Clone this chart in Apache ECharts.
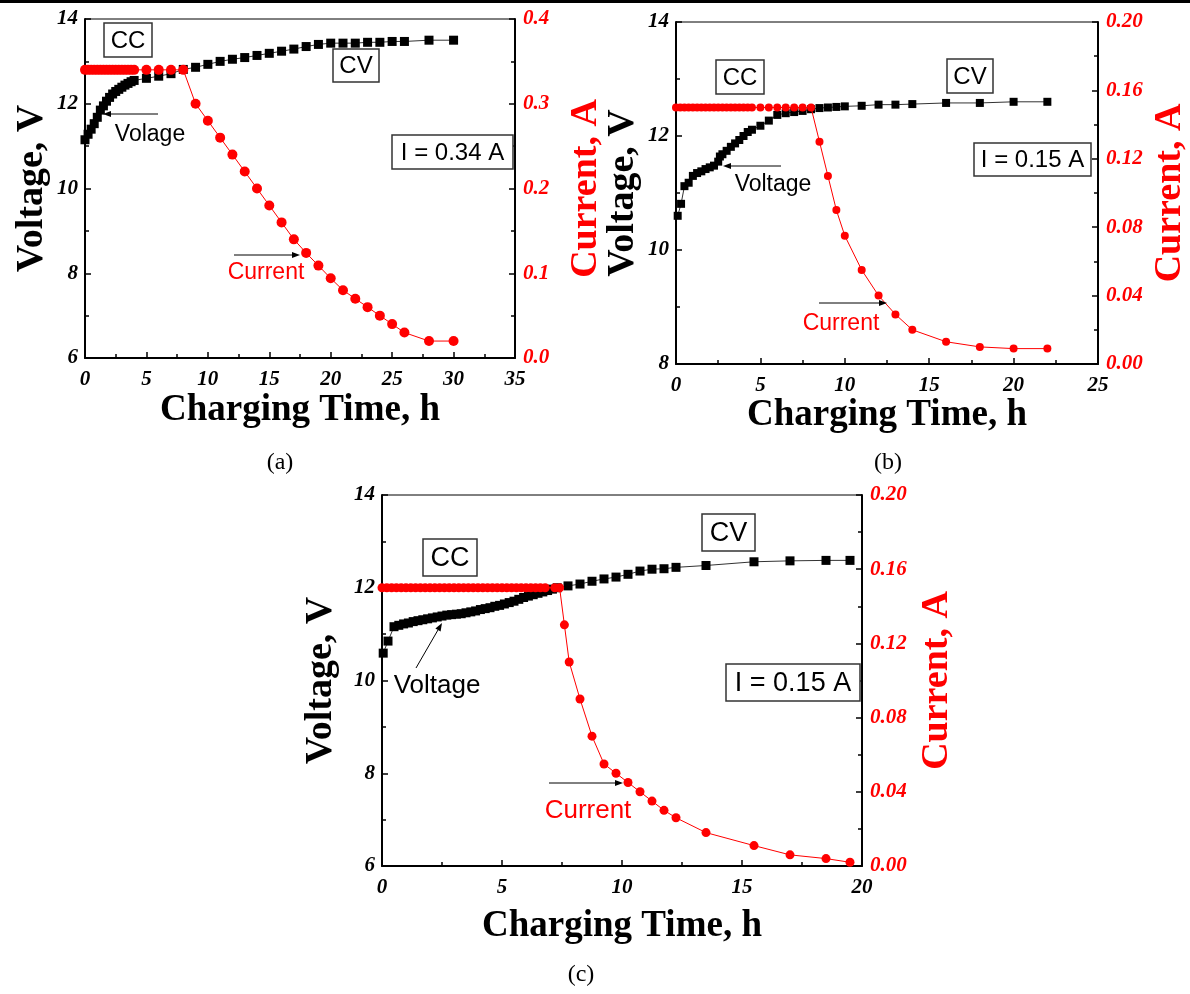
<!DOCTYPE html>
<html>
<head>
<meta charset="utf-8">
<script src="https://cdn.jsdelivr.net/npm/echarts@6/dist/echarts.min.js"></script>
<style>
  html, body { margin: 0; padding: 0; background: #fff; }
  #chart { width: 1190px; height: 994px; }
</style>
</head>
<body>
<div id="chart"></div>
<script>
// ---- panel (a), I = 0.34 A ----
var timeVoltA = [0, 0.25, 0.5, 0.75, 1, 1.25, 1.5, 1.75, 2, 2.25, 2.5, 2.75, 3, 3.25, 3.5, 3.75, 4,
  5, 6, 7, 8, 9, 10, 11, 12, 13, 14, 15, 16, 17, 18, 19, 20, 21, 22, 23, 24, 25, 26, 28, 30];
var voltA = [11.15, 11.28, 11.4, 11.53, 11.68, 11.85, 11.95, 12.06, 12.15, 12.23, 12.29, 12.34, 12.39, 12.44, 12.48, 12.52, 12.55,
  12.6, 12.65, 12.71, 12.81, 12.86, 12.93, 13.0, 13.05, 13.09, 13.14, 13.19, 13.24, 13.29, 13.35, 13.4, 13.43, 13.43, 13.43, 13.45, 13.45, 13.47, 13.47, 13.5, 13.5];
var timeCurA = [0, 0.25, 0.5, 0.75, 1, 1.25, 1.5, 1.75, 2, 2.25, 2.5, 2.75, 3, 3.25, 3.5, 3.75, 4,
  5, 6, 7, 8, 9, 10, 11, 12, 13, 14, 15, 16, 17, 18, 19, 20, 21, 22, 23, 24, 25, 26, 28, 30];
var curA = [0.34, 0.34, 0.34, 0.34, 0.34, 0.34, 0.34, 0.34, 0.34, 0.34, 0.34, 0.34, 0.34, 0.34, 0.34, 0.34, 0.34,
  0.34, 0.34, 0.34, 0.34, 0.30, 0.28, 0.26, 0.24, 0.22, 0.20, 0.18, 0.16, 0.14, 0.124, 0.109, 0.094, 0.08, 0.07, 0.06, 0.05, 0.04, 0.03, 0.02, 0.02];

// ---- panel (b), I = 0.15 A ----
var timeVoltB = [0.1, 0.3, 0.5, 0.75, 1, 1.25, 1.5, 1.75, 2, 2.25, 2.5, 2.6, 2.75, 3, 3.25, 3.5, 3.75, 4, 4.25, 4.5,
  5, 5.5, 6, 6.5, 7, 7.5, 8, 8.5, 9, 9.5, 10, 11, 12, 13, 14, 16, 18, 20, 22];
var voltB = [10.6, 10.81, 11.12, 11.18, 11.3, 11.35, 11.38, 11.42, 11.45, 11.48, 11.55, 11.64, 11.68, 11.74, 11.81, 11.87, 11.93, 12.0, 12.07, 12.11,
  12.18, 12.27, 12.37, 12.4, 12.42, 12.44, 12.47, 12.49, 12.5, 12.51, 12.52, 12.53, 12.55, 12.55, 12.56, 12.58, 12.58, 12.6, 12.6];
var timeCurB = [0, 0.25, 0.5, 0.75, 1, 1.25, 1.5, 1.75, 2, 2.25, 2.5, 2.75, 3, 3.25, 3.5, 3.75, 4, 4.25, 4.5,
  5, 5.5, 6, 6.5, 7, 7.5, 8, 8.5, 9, 9.5, 10, 11, 12, 13, 14, 16, 18, 20, 22];
var curB = [0.15, 0.15, 0.15, 0.15, 0.15, 0.15, 0.15, 0.15, 0.15, 0.15, 0.15, 0.15, 0.15, 0.15, 0.15, 0.15, 0.15, 0.15, 0.15,
  0.15, 0.15, 0.15, 0.15, 0.15, 0.15, 0.15, 0.13, 0.11, 0.09, 0.075, 0.055, 0.04, 0.029, 0.02, 0.013, 0.01, 0.009, 0.009];

// ---- panel (c), I = 0.15 A ----
var timeVoltC = [0.05, 0.25, 0.5, 0.7, 0.9, 1.1, 1.3, 1.5, 1.7, 1.9, 2.1, 2.3, 2.5, 2.7, 2.9, 3.1, 3.3, 3.5, 3.7, 3.9,
  4.1, 4.3, 4.5, 4.7, 4.9, 5.1, 5.3, 5.5, 5.7, 5.9, 6.1, 6.3, 6.5, 6.7, 6.9, 7.1, 7.3,
  7.75, 8.25, 8.75, 9.25, 9.75, 10.25, 10.75, 11.25, 11.75, 12.25, 13.5, 15.5, 17, 18.5, 19.5];
var voltC = [10.59, 10.85, 11.16, 11.19, 11.22, 11.24, 11.27, 11.29, 11.31, 11.33, 11.35, 11.37, 11.39, 11.41, 11.42, 11.43, 11.44, 11.46, 11.48, 11.5,
  11.53, 11.55, 11.57, 11.6, 11.62, 11.65, 11.68, 11.71, 11.75, 11.79, 11.82, 11.85, 11.88, 11.91, 11.94, 11.97, 12.0,
  12.04, 12.08, 12.14, 12.19, 12.23, 12.29, 12.36, 12.4, 12.41, 12.44, 12.48, 12.56, 12.58, 12.59, 12.59];
var timeCurC = [0, 0.2, 0.4, 0.6, 0.8, 1, 1.2, 1.4, 1.6, 1.8, 2, 2.2, 2.4, 2.6, 2.8, 3, 3.2, 3.4, 3.6, 3.8,
  4, 4.2, 4.4, 4.6, 4.8, 5, 5.2, 5.4, 5.6, 5.8, 6, 6.2, 6.4, 6.6, 6.8, 7.2, 7.4,
  7.6, 7.8, 8.25, 8.75, 9.25, 9.75, 10.25, 10.75, 11.25, 11.75, 12.25, 13.5, 15.5, 17, 18.5, 19.5];
var curC = [0.15, 0.15, 0.15, 0.15, 0.15, 0.15, 0.15, 0.15, 0.15, 0.15, 0.15, 0.15, 0.15, 0.15, 0.15, 0.15, 0.15, 0.15, 0.15, 0.15,
  0.15, 0.15, 0.15, 0.15, 0.15, 0.15, 0.15, 0.15, 0.15, 0.15, 0.15, 0.15, 0.15, 0.15, 0.15, 0.15, 0.15,
  0.13, 0.11, 0.09, 0.07, 0.055, 0.05, 0.045, 0.04, 0.035, 0.03, 0.026, 0.018, 0.011, 0.006, 0.004, 0.002];

var xTicksA = [0, 35, 5], xTicksB = [0, 25, 5], xTicksC = [0, 20, 5];

function pairs(t, v) {
  return t.map(function (x, i) { return [x, v[i]]; });
}

var serif = 'Liberation Serif';
var sans = 'Liberation Sans';
var tickFont = { fontFamily: serif, fontWeight: 'bold', fontStyle: 'italic', fontSize: 21 };

function xAx(grid, r, gap) {
  return {
    type: 'value', gridIndex: grid, min: r[0], max: r[1], interval: r[2],
    name: 'Charging Time, h', nameLocation: 'middle', nameGap: gap,
    nameTextStyle: { fontFamily: serif, fontWeight: 'bold', fontSize: 37, color: '#000' },
    axisLine: { show: true, onZero: false, lineStyle: { color: '#000', width: 2 } },
    axisTick: { inside: true, length: 6, lineStyle: { color: '#000', width: 1.5 } },
    minorTick: { show: true, splitNumber: 2, length: 4, lineStyle: { color: '#000', width: 1.5 } },
    splitLine: { show: false },
    axisLabel: Object.assign({ color: '#000', margin: 11 }, tickFont)
  };
}

function yLeft(grid, min, max, step, gap) {
  return {
    type: 'value', gridIndex: grid, position: 'left', min: min, max: max, interval: step,
    name: 'Voltage, V', nameLocation: 'middle', nameGap: gap, nameRotate: 90,
    nameTextStyle: { fontFamily: serif, fontWeight: 'bold', fontSize: 38, color: '#000' },
    axisLine: { show: true, onZero: false, lineStyle: { color: '#000', width: 2 } },
    axisTick: { inside: true, length: 6, lineStyle: { color: '#000', width: 1.5 } },
    minorTick: { show: true, splitNumber: 2, length: 4, lineStyle: { color: '#000', width: 1.5 } },
    splitLine: { show: false },
    axisLabel: Object.assign({ color: '#000', margin: 7 }, tickFont)
  };
}

function yRight(grid, max, step, digits, gap) {
  return {
    type: 'value', gridIndex: grid, position: 'right', min: 0, max: max, interval: step,
    name: 'Current, A', nameLocation: 'middle', nameGap: gap, nameRotate: 90,
    nameTextStyle: { fontFamily: serif, fontWeight: 'bold', fontSize: 38, color: '#ff0000' },
    axisLine: { show: true, onZero: false, lineStyle: { color: '#000', width: 2 } },
    axisTick: { inside: true, length: 6, lineStyle: { color: '#000', width: 1.5 } },
    minorTick: { show: true, splitNumber: 2, length: 4, lineStyle: { color: '#000', width: 1.5 } },
    splitLine: { show: false },
    axisLabel: Object.assign({ color: '#ff0000', margin: 8, formatter: function (v) { return v.toFixed(digits); } }, tickFont)
  };
}

function voltSeries(xi, yi, data, size) {
  return {
    type: 'line', xAxisIndex: xi, yAxisIndex: yi, data: data,
    symbol: 'rect', symbolSize: size, showAllSymbol: true,
    itemStyle: { color: '#000' },
    lineStyle: { color: '#333', width: 1 },
    z: 2
  };
}

function curSeries(xi, yi, data, size) {
  return {
    type: 'line', xAxisIndex: xi, yAxisIndex: yi, data: data,
    symbol: 'circle', symbolSize: size, showAllSymbol: true,
    itemStyle: { color: '#ff0000' },
    lineStyle: { color: '#ff0000', width: 1 },
    z: 3
  };
}

// annotation helpers (pixel layout)
function box(x, y, w, h, text, size) {
  return [
    { type: 'rect', shape: { x: x, y: y, width: w, height: h }, style: { fill: '#fff', stroke: '#333', lineWidth: 1.5 }, z: 10 },
    { type: 'text', x: x + w / 2, y: y + h / 2 + 1, style: { text: text, fill: '#000', font: size + 'px ' + sans, align: 'center', verticalAlign: 'middle' }, z: 11 }
  ];
}
function label(x, y, text, color, size) {
  return { type: 'text', x: x, y: y, style: { text: text, fill: color, font: size + 'px ' + sans, align: 'center', verticalAlign: 'middle' }, z: 11 };
}
function arrow(x1, y1, x2, y2) {
  var a = Math.atan2(y2 - y1, x2 - x1), L = 8, W = 3;
  var bx = x2 - L * Math.cos(a), by = y2 - L * Math.sin(a);
  var px = -Math.sin(a) * W, py = Math.cos(a) * W;
  return [
    { type: 'line', shape: { x1: x1, y1: y1, x2: bx, y2: by }, style: { stroke: '#000', lineWidth: 1 }, z: 11 },
    { type: 'polygon', shape: { points: [[x2, y2], [bx + px, by + py], [bx - px, by - py]] }, style: { fill: '#000' }, z: 11 }
  ];
}
function caption(x, y, text) {
  return { type: 'text', x: x, y: y, style: { text: text, fill: '#000', font: '24px ' + serif, align: 'center', verticalAlign: 'middle' }, z: 11 };
}

var graphics = [].concat(
  [{ type: 'rect', shape: { x: 0, y: 0, width: 1190, height: 3 }, style: { fill: '#000' } }],
  box(104, 23, 48, 34, 'CC', 24), box(333, 49, 46, 33, 'CV', 24), box(392, 135, 121, 34, 'I = 0.34 A', 24),
  [label(150, 135, 'Volage', '#000', 23), label(266, 273, 'Current', '#ff0000', 23)],
  arrow(158, 114, 103, 114), arrow(234, 255, 300, 255),
  box(716, 60, 48, 34, 'CC', 24), box(947, 59, 46, 34, 'CV', 24), box(974, 143, 117, 33, 'I = 0.15 A', 24),
  [label(773, 185, 'Voltage', '#000', 23), label(841, 324, 'Current', '#ff0000', 23)],
  arrow(781, 166, 723, 166), arrow(819, 303, 887, 303),
  box(423, 539, 54, 37, 'CC', 27), box(702, 514, 53, 37, 'CV', 27), box(726, 664, 134, 37, 'I = 0.15 A', 27),
  [label(437, 686, 'Voltage', '#000', 26), label(588, 811, 'Current', '#ff0000', 26)],
  arrow(416, 668, 442, 623), arrow(549, 783, 623, 783),
  [caption(280, 463, '(a)'), caption(888, 463, '(b)'), caption(581, 975, '(c)')]
);

var chart = echarts.init(document.getElementById('chart'));
chart.setOption({
  backgroundColor: '#fff',
  animation: false,
  grid: [
    { left: 85, top: 19, width: 430, height: 339, show: true, borderColor: '#000', borderWidth: 1 },
    { left: 676, top: 22, width: 423, height: 342, show: true, borderColor: '#000', borderWidth: 1 },
    { left: 382, top: 495, width: 480, height: 371, show: true, borderColor: '#000', borderWidth: 1 }
  ],
  xAxis: [xAx(0, xTicksA, 34), xAx(1, xTicksB, 32), xAx(2, xTicksC, 42)],
  yAxis: [
    yLeft(0, 6, 14, 2, 34), yRight(0, 0.4, 0.1, 1, 52),
    yLeft(1, 8, 14, 2, 34), yRight(1, 0.2, 0.04, 2, 53),
    yLeft(2, 6, 14, 2, 42), yRight(2, 0.2, 0.04, 2, 56)
  ],
  series: [
    voltSeries(0, 0, pairs(timeVoltA, voltA), 9), curSeries(0, 1, pairs(timeCurA, curA), 10),
    voltSeries(1, 2, pairs(timeVoltB, voltB), 8), curSeries(1, 3, pairs(timeCurB, curB), 8),
    voltSeries(2, 4, pairs(timeVoltC, voltC), 9), curSeries(2, 5, pairs(timeCurC, curC), 9)
  ],
  graphic: graphics
});
</script>
</body>
</html>
